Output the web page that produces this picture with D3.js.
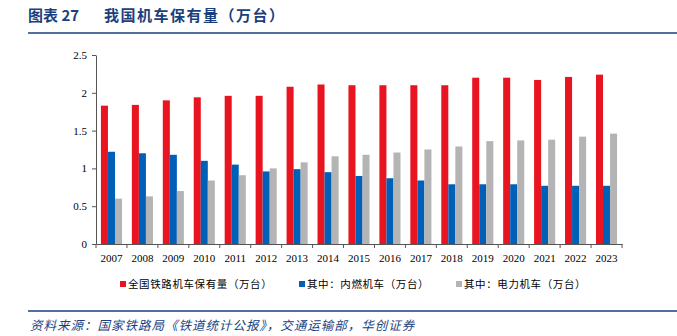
<!DOCTYPE html>
<html>
<head>
<meta charset="utf-8">
<script src="https://cdn.jsdelivr.net/npm/d3@7"></script>
<style>
  body { margin: 0; background: #fff; }
  svg { display: block; }
  .cn { font-family: "Noto Sans CJK SC", sans-serif; }
</style>
</head>
<body>
<div id="chart"></div>
<script>
var years = ['2007','2008','2009','2010','2011','2012','2013','2014','2015',
             '2016','2017','2018','2019','2020','2021','2022','2023'];
var total    = [1.83,1.84,1.90,1.94,1.96,1.96,2.08,2.11,2.10,2.10,2.10,2.10,2.20,2.20,2.17,2.21,2.24];
var diesel   = [1.22,1.20,1.18,1.10,1.05,0.96,0.99,0.95,0.90,0.87,0.84,0.79,0.79,0.79,0.77,0.77,0.77];
var electric = [0.60,0.63,0.70,0.84,0.91,1.00,1.08,1.16,1.18,1.21,1.25,1.29,1.36,1.37,1.38,1.42,1.46];
var seriesNames = ['全国铁路机车保有量（万台）', '其中：内燃机车（万台）', '其中：电力机车（万台）'];
var colors = ['#e8141f', '#0060b8', '#b4b4b4'];
var yTicks = [0, 0.5, 1, 1.5, 2, 2.5];

var width = 677,
    height = 336,
    margin = {top: 55, left: 96, right: 55, bottom: 92},
    innerWidth = width - margin.left - margin.right,
    innerHeight = 244 - margin.top;

var series = [total, diesel, electric];

var x0 = d3.scaleBand()
    .domain(years)
    .range([margin.left, margin.left + innerWidth])
    .padding(0);
var x1 = d3.scaleBand()
    .domain([0, 1, 2])
    .range([0, x0.bandwidth()])
    .paddingInner(0)
    .paddingOuter(0.7);
var y = d3.scaleLinear()
    .domain([0, 2.5])
    .range([margin.top + innerHeight, margin.top]);

var svg = d3.select('#chart').append('svg')
    .attr('width', width)
    .attr('height', height);

// title
svg.append('text')
    .attr('class', 'cn')
    .attr('x', 28).attr('y', 21)
    .attr('fill', '#1a3f7e')
    .style('font-size', '15px')
    .style('font-weight', 'bold')
    .text('图表 27');
svg.append('text')
    .attr('class', 'cn')
    .attr('x', 104).attr('y', 21)
    .attr('fill', '#1a3f7e')
    .style('font-size', '15px')
    .style('font-weight', 'bold')
    .style('letter-spacing', '1.5px')
    .text('我国机车保有量（万台）');
svg.append('line')
    .attr('x1', 28).attr('x2', 677)
    .attr('y1', 33).attr('y2', 33)
    .attr('stroke', '#1a3f7e').attr('stroke-width', 1.5);

// bars
svg.append('g').selectAll('rect')
    .data(d3.cross(d3.range(years.length), [0, 1, 2])).enter()
    .append('rect')
    .attr('x', function(d) { return x0(years[d[0]]) + x1(d[1]); })
    .attr('y', function(d) { return y(series[d[1]][d[0]]); })
    .attr('width', x1.bandwidth())
    .attr('height', function(d) { return y(0) - y(series[d[1]][d[0]]); })
    .attr('fill', function(d) { return colors[d[1]]; });

// axes (lines from d3.axis, labels placed from the scales)
var xAxis = svg.append('g')
    .attr('transform', 'translate(0,' + y(0) + ')')
    .call(d3.axisBottom(x0).tickSize(0).tickFormat(''));
xAxis.selectAll('.tick').remove();
xAxis.select('.domain').attr('stroke', '#555');
xAxis.selectAll('.bound')
    .data(d3.range(years.length + 1)).enter()
    .append('line')
    .attr('x1', function(i) { return margin.left + i * x0.step(); })
    .attr('x2', function(i) { return margin.left + i * x0.step(); })
    .attr('y1', 0).attr('y2', 4)
    .attr('stroke', '#555');

svg.selectAll('.xlab')
    .data(years).enter()
    .append('text')
    .attr('font-family', 'Liberation Serif')
    .attr('font-size', 11)
    .attr('fill', '#000')
    .attr('x', function(d) { return x0(d) + x0.bandwidth() / 2; })
    .attr('y', y(0) + 18)
    .attr('text-anchor', 'middle')
    .text(function(d) { return d; });

var yAxis = svg.append('g')
    .attr('transform', 'translate(' + margin.left + ',0)')
    .call(d3.axisLeft(y).tickValues(yTicks).tickSize(4).tickSizeOuter(0).tickFormat(''));
yAxis.selectAll('line, .domain').attr('stroke', '#555');

svg.selectAll('.ylab')
    .data(yTicks).enter()
    .append('text')
    .attr('font-family', 'Liberation Serif')
    .attr('font-size', 11)
    .attr('fill', '#000')
    .attr('x', margin.left - 9)
    .attr('y', function(d) { return y(d) + 4; })
    .attr('text-anchor', 'end')
    .text(function(d) { return d; });

// legend
var legendX = [120, 299, 456];
var legend = svg.selectAll('.legend')
    .data(seriesNames).enter()
    .append('g')
    .attr('class', 'legend')
    .attr('transform', function(d, i) { return 'translate(' + legendX[i] + ',285)'; });
legend.append('rect')
    .attr('x', 0).attr('y', -4)
    .attr('width', 6).attr('height', 6)
    .attr('fill', function(d, i) { return colors[i]; });
legend.append('text')
    .attr('class', 'cn')
    .attr('x', 8).attr('y', 3)
    .style('font-size', '10.5px')
    .style('letter-spacing', '0.6px')
    .text(function(d) { return d; });

// source
svg.append('line')
    .attr('x1', 28).attr('x2', 677)
    .attr('y1', 311).attr('y2', 311)
    .attr('stroke', '#1a3f7e').attr('stroke-width', 1.5);
svg.append('text')
    .attr('class', 'cn')
    .attr('x', 30).attr('y', 330)
    .attr('fill', '#1a3f7e')
    .style('font-size', '12.5px')
    .style('font-style', 'italic')
    .style('letter-spacing', '1px')
    .text('资料来源：国家铁路局《铁道统计公报》，交通运输部，华创证券');
</script>
</body>
</html>
